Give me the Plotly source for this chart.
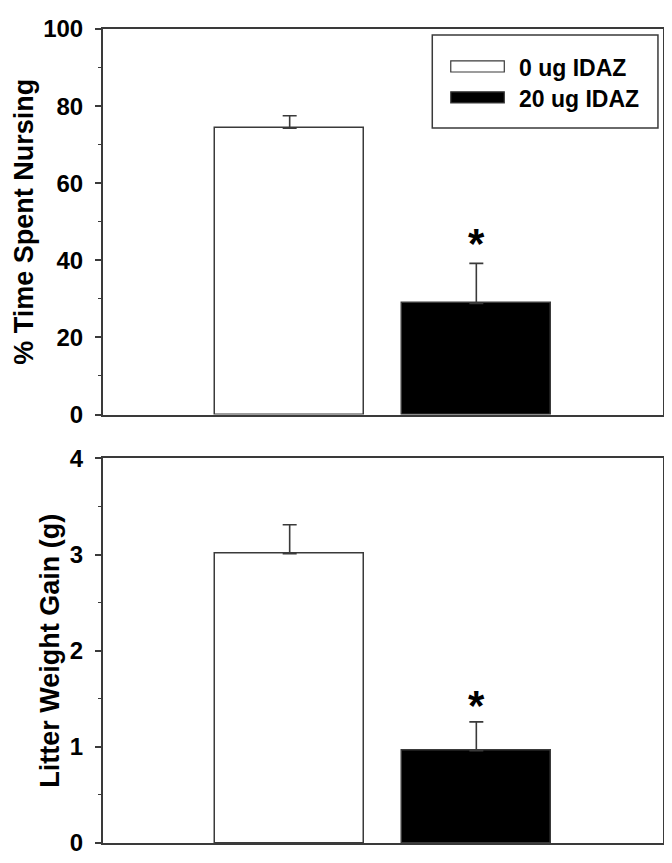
import plotly.graph_objects as go

# ---- data ----
groups = ["0 ug IDAZ", "20 ug IDAZ"]
bar_x = [1, 2]
nursing_mean = [74.3, 28.8]
nursing_sem = [3.2, 10.4]
weight_mean = [3.01, 0.96]
weight_sem = [0.30, 0.30]
bar_colors = ["white", "black"]
y1_ticks = [0, 20, 40, 60, 80, 100]
y2_ticks = [0, 1, 2, 3, 4]
sig_marks = ["", "*"]

FONT = "Liberation Sans, Arial, sans-serif"
AX = "#3a3a3a"

fig = go.Figure()

def add_bars(means, sems, xa, ya):
    fig.add_trace(go.Bar(
        x=bar_x, y=means, width=0.8,
        marker=dict(color=bar_colors, line=dict(color=AX, width=1.5)),
        error_y=dict(type="data", array=sems, arrayminus=[0] * len(sems),
                     symmetric=False, color=AX, thickness=1.6, width=7),
        xaxis=xa, yaxis=ya, showlegend=False, hoverinfo="skip"))

add_bars(nursing_mean, nursing_sem, "x", "y")
add_bars(weight_mean, weight_sem, "x2", "y2")

# significance marks
for means, sems, xr, yr, shift in [(nursing_mean, nursing_sem, "x", "y", -6),
                                  (weight_mean, weight_sem, "x2", "y2", -9)]:
    for xi, m, s, mark in zip(bar_x, means, sems, sig_marks):
        if mark:
            fig.add_annotation(x=xi, y=m + s, xref=xr, yref=yr, text=f"<b>{mark}</b>",
                               showarrow=False, yanchor="bottom", yshift=shift,
                               font=dict(family=FONT, size=42, color="black"))

axis_common = dict(showline=True, linecolor=AX, linewidth=2, mirror=True,
                   showgrid=False, zeroline=False)
xcommon = dict(axis_common, range=[0, 3], showticklabels=False, ticks="")
ycommon = dict(axis_common, ticks="outside", ticklen=6, tickwidth=1.5, tickcolor=AX,
               ticklabelstandoff=7,
               tickfont=dict(family=FONT, size=24, color="black"),
               title_font=dict(family=FONT, size=27, color="black"),
               title_standoff=2)

# page body has an 8px margin, so the figure is 8px smaller and margins shifted
fig.update_layout(
    width=664, height=855,
    margin=dict(l=95, r=7, t=15, b=17),
    paper_bgcolor="white", plot_bgcolor="white",
    bargap=0,
    xaxis=dict(xcommon, domain=[0, 1], anchor="y"),
    yaxis=dict(ycommon, domain=[0.5264, 1], range=[0, 100], tickvals=y1_ticks,
               ticktext=[f"<b>{v}</b>" for v in y1_ticks],
               title_text="<b>% Time Spent Nursing</b>",
               minor=dict(dtick=10, ticks="outside", ticklen=3, tickcolor=AX, tickwidth=1.2),
               anchor="x"),
    xaxis2=dict(xcommon, domain=[0, 1], anchor="y2"),
    yaxis2=dict(ycommon, domain=[0, 0.4724], range=[0, 4], tickvals=y2_ticks,
                ticktext=[f"<b>{v}</b>" for v in y2_ticks],
                title_text="<b>Litter Weight Gain (g)</b>",
                minor=dict(dtick=0.5, ticks="outside", ticklen=3, tickcolor=AX, tickwidth=1.2),
                anchor="x2"),
)

# custom legend (in the top panel)
fig.add_shape(type="rect", xref="paper", yref="paper",
              x0=0.588, x1=0.991, y0=0.8785, y1=0.9926,
              line=dict(color=AX, width=1.5), fillcolor="white")
leg_y = [0.9540, 0.9160]
for name, col, yc in zip(groups, bar_colors, leg_y):
    fig.add_shape(type="rect", xref="paper", yref="paper",
                  x0=0.621, x1=0.7166, y0=yc - 0.0068, y1=yc + 0.0068,
                  line=dict(color=AX, width=1.2), fillcolor=col)
    fig.add_annotation(xref="paper", yref="paper", x=0.740, y=yc - 0.002,
                       xanchor="left", yanchor="middle", showarrow=False,
                       text=f"<b>{name}</b>",
                       font=dict(family=FONT, size=23, color="black"))

fig.write_html("out.html")
